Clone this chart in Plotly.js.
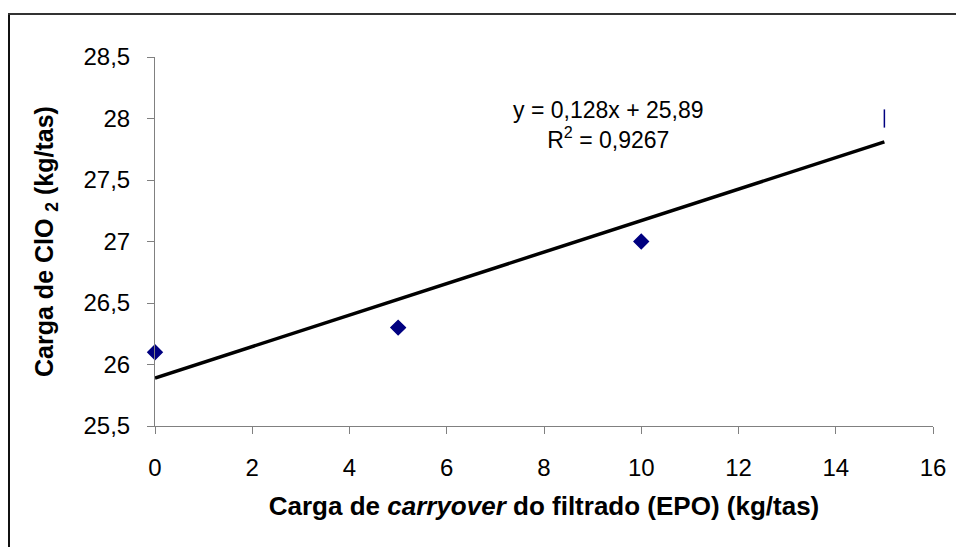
<!DOCTYPE html>
<html>
<head>
<meta charset="utf-8">
<script src="https://cdn.plot.ly/plotly-3.0.1.min.js"></script>
<style>
html,body{margin:0;padding:0;background:#fff;}
#chart{width:956px;height:547px;}
</style>
</head>
<body>
<div id="chart"></div>
<script>
// Data
const xValues = [0, 5, 10, 15];
const yValues = [26.1, 26.3, 27.0, 28.0];
const pointSymbols = ['diamond', 'diamond', 'diamond', 'line-ns'];
const slope = 0.128;
const intercept = 25.89;
const rSquared = '0,9267';
const trendX = [0, 15];
const trendY = trendX.map(x => slope * x + intercept);
const xTicks = [0, 2, 4, 6, 8, 10, 12, 14, 16];
const yTicks = [25.5, 26, 26.5, 27, 27.5, 28, 28.5];
const yTickText = ['25,5', '26', '26,5', '27', '27,5', '28', '28,5'];

const W = 956, H = 547;
const M = {l: 155, r: 23, t: 57, b: 121};
const pw = W - M.l - M.r, ph = H - M.t - M.b;
const px = v => (v - M.l) / pw;
const py = v => (H - M.b - v) / ph;

const font = 'Arial, "Liberation Sans", sans-serif';

const traces = [
  {
    x: trendX, y: trendY, type: 'scatter', mode: 'lines',
    line: {color: '#000000', width: 3.5},
    hoverinfo: 'skip', showlegend: false, cliponaxis: false
  },
  {
    x: xValues, y: yValues, type: 'scatter', mode: 'markers',
    opacity: 1,
    marker: {symbol: pointSymbols, size: [11, 11, 11, 13], color: '#000080', opacity: 1,
             line: {color: '#000080', width: 1.5}},
    showlegend: false, cliponaxis: false
  }
];

const axisCommon = {
  showgrid: false, zeroline: false, showline: true,
  linecolor: '#808080', linewidth: 1,
  ticks: 'outside', ticklen: 7, tickwidth: 1, tickcolor: '#808080',
  tickfont: {family: font, size: 24, color: '#000'}
};

const layout = {
  width: W, height: H,
  margin: M,
  paper_bgcolor: '#fff', plot_bgcolor: '#fff',
  showlegend: false,
  xaxis: Object.assign({}, axisCommon, {
    range: [0, 16], tickvals: xTicks, ticktext: xTicks.map(String),
    ticklabelstandoff: 13,
    title: {text: 'Carga de <i>carryover</i> do filtrado (EPO) (kg/tas)',
            font: {family: font, size: 26, color: '#000', weight: 'bold'}, standoff: 17}
  }),
  yaxis: Object.assign({}, axisCommon, {
    range: [25.5, 28.5], tickvals: yTicks, ticktext: yTickText,
    ticklabelstandoff: 12,
    title: {text: 'Carga de ClO <sub>2</sub> (kg/tas)',
            font: {family: font, size: 25, color: '#000', weight: 'bold'}, standoff: 22}
  }),
  annotations: [{
    xref: 'paper', yref: 'paper', x: px(608), y: py(125),
    xanchor: 'center', yanchor: 'middle', align: 'center', showarrow: false,
    text: 'y = 0,128x + 25,89<br>R<sup>2</sup> = ' + rSquared,
    font: {family: font, size: 23, color: '#000'}
  }],
  shapes: [
    {type: 'line', xref: 'paper', yref: 'paper', x0: px(9), x1: px(9), y0: py(13), y1: py(560),
     line: {color: '#111', width: 2}},
    {type: 'line', xref: 'paper', yref: 'paper', x0: px(8), x1: px(970), y0: py(14), y1: py(14),
     line: {color: '#333', width: 2}}
  ]
};

Plotly.newPlot('chart', traces, layout, {displayModeBar: false, staticPlot: true});
</script>
</body>
</html>
